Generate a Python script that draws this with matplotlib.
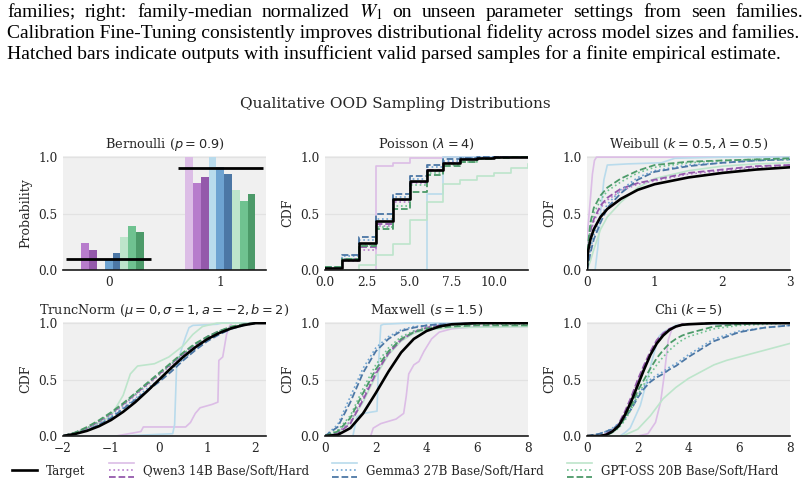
import matplotlib
matplotlib.use("Agg")
import matplotlib.pyplot as plt
from matplotlib.lines import Line2D
from matplotlib.legend_handler import HandlerBase
import numpy as np

# ---------------- data ----------------
caption_lines = [
    r"families; right: family-median normalized $W_1$ on unseen parameter settings from seen families.",
    "Calibration Fine-Tuning consistently improves distributional fidelity across model sizes and families.",
    "Hatched bars indicate outputs with insufficient valid parsed samples for a finite empirical estimate.",
]
caption_justify = [True, False, False]
suptitle = "Qualitative OOD Sampling Distributions"
families = ["Qwen3 14B", "Gemma3 27B", "GPT-OSS 20B"]
variants = ["Base", "Soft", "Hard"]

# Bernoulli (p=0.9)
bern_cats = [0, 1]
bern_target = [0.1, 0.9]
bern_qwen_base = [0.0, 1.0]
bern_qwen_soft = [0.24, 0.77]
bern_qwen_hard = [0.18, 0.82]
bern_gemma_base = [0.0, 1.0]
bern_gemma_soft = [0.09, 0.91]
bern_gemma_hard = [0.15, 0.85]
bern_gpt_base = [0.29, 0.71]
bern_gpt_soft = [0.39, 0.61]
bern_gpt_hard = [0.34, 0.67]

# Poisson (lambda=4), step CDFs
pois_k = [0, 1, 2, 3, 4, 5, 6, 7, 8, 9, 10, 11, 12]
pois_target = [0.02, 0.09, 0.24, 0.43, 0.63, 0.79, 0.89, 0.95, 0.98, 0.99, 1.0, 1.0, 1.0]
pois_qwen_base = [0.0, 0.0, 0.0, 0.92, 0.95, 0.99, 0.99, 1.0, 1.0, 1.0, 1.0, 1.0, 1.0]
pois_qwen_soft = [0.01, 0.08, 0.18, 0.39, 0.60, 0.77, 0.88, 0.96, 0.98, 0.99, 1.0, 1.0, 1.0]
pois_qwen_hard = [0.01, 0.10, 0.20, 0.41, 0.62, 0.78, 0.89, 0.95, 0.98, 0.99, 1.0, 1.0, 1.0]
pois_gemma_base = [0.0, 0.0, 0.0, 0.0, 0.0, 0.0, 0.67, 1.0, 1.0, 1.0, 1.0, 1.0, 1.0]
pois_gemma_soft = [0.02, 0.12, 0.27, 0.45, 0.65, 0.81, 0.91, 0.97, 0.99, 1.0, 1.0, 1.0, 1.0]
pois_gemma_hard = [0.03, 0.13, 0.29, 0.50, 0.67, 0.83, 0.93, 0.98, 0.99, 1.0, 1.0, 1.0, 1.0]
pois_gpt_base = [0.0, 0.0, 0.04, 0.13, 0.23, 0.44, 0.60, 0.76, 0.80, 0.83, 0.86, 0.90, 0.94]
pois_gpt_soft = [0.03, 0.10, 0.22, 0.38, 0.57, 0.75, 0.86, 0.93, 0.96, 0.98, 0.99, 1.0, 1.0]
pois_gpt_hard = [0.03, 0.10, 0.21, 0.36, 0.54, 0.69, 0.84, 0.92, 0.96, 0.98, 0.99, 1.0, 1.0]

# Weibull (k=0.5, lambda=0.5)
weib_x = [0, 0.01, 0.02, 0.05, 0.1, 0.2, 0.3, 0.5, 0.75, 1.0, 1.5, 2.0, 2.5, 3.0]
weib_target = [0, 0.13, 0.18, 0.27, 0.36, 0.47, 0.54, 0.63, 0.71, 0.76, 0.82, 0.86, 0.89, 0.91]
weib_qwen_soft = [0, 0.12, 0.20, 0.33, 0.43, 0.55, 0.62, 0.70, 0.76, 0.79, 0.85, 0.88, 0.91, 0.93]
weib_qwen_hard = [0, 0.13, 0.21, 0.35, 0.45, 0.57, 0.64, 0.72, 0.77, 0.80, 0.86, 0.89, 0.92, 0.93]
weib_gemma_soft = [0, 0.04, 0.08, 0.18, 0.31, 0.47, 0.58, 0.71, 0.82, 0.88, 0.93, 0.95, 0.97, 0.98]
weib_gemma_hard = [0, 0.03, 0.06, 0.15, 0.27, 0.42, 0.55, 0.68, 0.80, 0.87, 0.92, 0.95, 0.97, 0.98]
weib_gpt_soft = [0, 0.13, 0.22, 0.38, 0.50, 0.62, 0.70, 0.78, 0.86, 0.91, 0.95, 0.97, 0.98, 0.98]
weib_gpt_hard = [0, 0.15, 0.25, 0.42, 0.55, 0.66, 0.73, 0.81, 0.88, 0.93, 0.96, 0.97, 0.98, 0.99]
weib_qwen_base_x = [0, 0.0, 0.02, 0.05, 0.08, 0.11, 0.14, 3.0]
weib_qwen_base_y = [0, 0.28, 0.42, 0.63, 0.85, 0.97, 1.0, 1.0]
weib_gemma_base_x = [0, 0.12, 0.16, 0.2, 0.25, 0.3, 0.6, 1.1, 1.3, 2.0, 3.0]
weib_gemma_base_y = [0, 0.0, 0.2, 0.5, 0.8, 0.93, 0.94, 0.95, 0.99, 1.0, 1.0]
weib_gpt_base_x = [0, 0.05, 0.1, 0.2, 0.3, 0.5, 0.75, 1.0, 1.5, 2.0, 2.5, 3.0]
weib_gpt_base_y = [0, 0.08, 0.18, 0.36, 0.47, 0.60, 0.73, 0.81, 0.88, 0.92, 0.94, 0.95]

# Truncated normal (mu=0, sigma=1, a=-2, b=2)
tn_x = [-2, -1.75, -1.5, -1.25, -1, -0.75, -0.5, -0.25, 0, 0.25, 0.5, 0.75, 1.0, 1.25, 1.5, 1.75, 2.0, 2.22]
tn_target = [0, 0.018, 0.046, 0.087, 0.142, 0.214, 0.299, 0.397, 0.5, 0.603, 0.701, 0.786, 0.858, 0.913, 0.954, 0.982, 1.0, 1.0]
tn_qwen_soft = [0, 0.03, 0.07, 0.12, 0.19, 0.27, 0.36, 0.45, 0.54, 0.63, 0.72, 0.80, 0.87, 0.92, 0.96, 0.99, 1.0, 1.0]
tn_qwen_hard = [0, 0.03, 0.07, 0.13, 0.20, 0.28, 0.37, 0.46, 0.55, 0.64, 0.73, 0.81, 0.88, 0.93, 0.96, 0.99, 1.0, 1.0]
tn_gemma_soft = [0, 0.02, 0.05, 0.10, 0.17, 0.25, 0.33, 0.42, 0.50, 0.59, 0.68, 0.77, 0.85, 0.91, 0.95, 0.98, 1.0, 1.0]
tn_gemma_hard = [0, 0.02, 0.05, 0.10, 0.16, 0.24, 0.32, 0.40, 0.48, 0.57, 0.67, 0.76, 0.84, 0.90, 0.95, 0.98, 1.0, 1.0]
tn_gpt_soft = [0, 0.03, 0.07, 0.13, 0.20, 0.28, 0.37, 0.46, 0.55, 0.64, 0.73, 0.81, 0.88, 0.93, 0.96, 0.99, 1.0, 1.0]
tn_gpt_hard = [0, 0.03, 0.08, 0.14, 0.21, 0.29, 0.38, 0.47, 0.56, 0.65, 0.74, 0.82, 0.88, 0.93, 0.97, 0.99, 1.0, 1.0]
tn_qwen_base_x = [-2, -0.9, -0.5, -0.38, -0.33, 0.55, 0.65, 0.75, 0.85, 1.1, 1.22, 1.24, 1.32, 1.4, 1.47, 1.52, 2.22]
tn_qwen_base_y = [0, 0.0, 0.03, 0.04, 0.08, 0.08, 0.12, 0.20, 0.25, 0.28, 0.30, 0.67, 0.70, 0.90, 0.98, 1.0, 1.0]
tn_gemma_base_x = [-2, -0.8, 0.28, 0.32, 0.36, 0.45, 0.55, 0.62, 0.7, 1.2, 1.3, 2.22]
tn_gemma_base_y = [0, 0.0, 0.02, 0.10, 0.60, 0.75, 0.88, 0.96, 0.98, 0.99, 1.0, 1.0]
tn_gpt_base_x = [-2, -1.5, -1.0, -0.75, -0.6, -0.45, -0.1, 0.2, 0.5, 0.7, 0.9, 1.2, 2.22]
tn_gpt_base_y = [0, 0.05, 0.18, 0.36, 0.55, 0.62, 0.64, 0.70, 0.80, 0.90, 0.97, 1.0, 1.0]

# Maxwell (s=1.5)
mx_x = [0, 0.5, 1, 1.5, 2, 2.5, 3, 3.5, 4, 4.5, 5, 6, 7, 8]
mx_target = [0, 0.01, 0.07, 0.20, 0.38, 0.57, 0.74, 0.86, 0.93, 0.97, 0.99, 1.0, 1.0, 1.0]
mx_qwen_soft = [0, 0.03, 0.13, 0.35, 0.57, 0.75, 0.86, 0.93, 0.97, 0.98, 0.99, 1.0, 1.0, 1.0]
mx_qwen_hard = [0, 0.02, 0.11, 0.32, 0.55, 0.73, 0.85, 0.92, 0.96, 0.98, 0.99, 1.0, 1.0, 1.0]
mx_gemma_soft = [0, 0.10, 0.35, 0.60, 0.78, 0.88, 0.94, 0.97, 0.98, 0.99, 0.99, 1.0, 1.0, 1.0]
mx_gemma_hard = [0, 0.08, 0.30, 0.56, 0.75, 0.86, 0.93, 0.96, 0.98, 0.99, 0.99, 1.0, 1.0, 1.0]
mx_gpt_soft = [0, 0.05, 0.18, 0.42, 0.63, 0.78, 0.88, 0.93, 0.96, 0.97, 0.98, 0.99, 0.99, 0.99]
mx_gpt_hard = [0, 0.04, 0.16, 0.38, 0.59, 0.75, 0.86, 0.92, 0.95, 0.96, 0.97, 0.98, 0.98, 0.98]
mx_qwen_base_x = [0, 1.8, 1.9, 2.2, 2.8, 3.1, 3.2, 3.3, 3.5, 3.7, 3.9, 4.2, 4.5, 5.0, 6.0, 8.0]
mx_qwen_base_y = [0, 0.0, 0.07, 0.11, 0.15, 0.20, 0.35, 0.55, 0.63, 0.66, 0.75, 0.86, 0.92, 0.95, 0.97, 0.97]
mx_gemma_base_x = [0, 1.1, 1.25, 1.5, 2.05, 2.1, 2.2, 2.3, 3.2, 8.0]
mx_gemma_base_y = [0, 0.0, 0.17, 0.20, 0.22, 0.60, 0.98, 0.99, 1.0, 1.0]
mx_gpt_base_x = [0, 0.5, 1, 1.5, 2, 2.5, 3, 3.5, 4, 5, 8]
mx_gpt_base_y = [0, 0.03, 0.12, 0.30, 0.53, 0.72, 0.84, 0.91, 0.94, 0.96, 0.97]

# Chi (k=5)
chi_x = [0, 0.5, 0.75, 1, 1.25, 1.5, 1.75, 2, 2.25, 2.5, 2.75, 3, 3.25, 3.5, 3.75, 4, 5, 6, 7, 8]
chi_target = [0, 0.0, 0.01, 0.04, 0.09, 0.19, 0.31, 0.45, 0.59, 0.72, 0.82, 0.89, 0.94, 0.97, 0.985, 0.99, 1, 1, 1, 1]
chi_qwen_soft = [0, 0.0, 0.02, 0.05, 0.10, 0.21, 0.34, 0.48, 0.62, 0.74, 0.84, 0.90, 0.95, 0.97, 0.98, 0.99, 1, 1, 1, 1]
chi_qwen_hard = [0, 0.0, 0.02, 0.05, 0.11, 0.22, 0.35, 0.50, 0.63, 0.75, 0.85, 0.91, 0.95, 0.97, 0.99, 0.99, 1, 1, 1, 1]
chi_gemma_soft = [0, 0.02, 0.04, 0.07, 0.11, 0.18, 0.26, 0.36, 0.44, 0.50, 0.54, 0.57, 0.61, 0.64, 0.68, 0.72, 0.86, 0.93, 0.96, 0.98]
chi_gemma_hard = [0, 0.02, 0.04, 0.06, 0.10, 0.16, 0.24, 0.34, 0.42, 0.48, 0.52, 0.55, 0.59, 0.62, 0.66, 0.70, 0.84, 0.92, 0.96, 0.98]
chi_gpt_soft = [0, 0.0, 0.01, 0.03, 0.07, 0.14, 0.24, 0.36, 0.46, 0.55, 0.63, 0.70, 0.76, 0.81, 0.85, 0.88, 0.95, 0.98, 0.99, 1.0]
chi_gpt_hard = [0, 0.0, 0.01, 0.03, 0.08, 0.16, 0.27, 0.40, 0.50, 0.60, 0.69, 0.76, 0.82, 0.86, 0.89, 0.91, 0.97, 0.99, 1.0, 1.0]
chi_qwen_base_x = [0, 2.0, 2.4, 2.7, 2.9, 3.05, 3.2, 3.35, 3.8, 8]
chi_qwen_base_y = [0, 0.0, 0.02, 0.12, 0.30, 0.55, 0.85, 0.95, 0.99, 1.0]
chi_gemma_base_x = [0, 1.3, 1.5, 1.7, 2.1, 2.35, 2.6, 2.83, 3.0, 3.5, 4.0, 8]
chi_gemma_base_y = [0, 0.0, 0.03, 0.07, 0.27, 0.48, 0.70, 0.88, 0.92, 0.98, 0.99, 1.0]
chi_gpt_base_x = [0, 1.4, 2.0, 2.5, 2.8, 3.0, 3.5, 4.0, 4.5, 5.0, 5.5, 6.0, 7.0, 8.0]
chi_gpt_base_y = [0, 0.0, 0.06, 0.18, 0.27, 0.33, 0.43, 0.51, 0.57, 0.63, 0.67, 0.70, 0.76, 0.82]

# ---------------- style ----------------
plt.rcParams.update({
    "font.family": "DejaVu Serif",
    "mathtext.fontset": "dejavusans",
    "font.size": 8.5,
    "text.color": "#262626",
    "axes.labelcolor": "#262626",
    "xtick.color": "#262626",
    "ytick.color": "#262626",
})

colors = {
    "Qwen3 14B": ["#dcbde6", "#b77ccc", "#9459ab"],
    "Gemma3 27B": ["#b9dbec", "#6ea3d1", "#4c77a5"],
    "GPT-OSS 20B": ["#bde5cb", "#6fc290", "#4c9a69"],
}
lstyles = ["-", ":", "--"]
lwidths = [1.2, 1.2, 1.3]
BG = "#f0f0f0"
GRID = "#e2e2e2"
TITLE_FS = 9.3

W, H = 807, 486
fig = plt.figure(figsize=(W / 100, H / 100), dpi=100)
renderer = fig.canvas.get_renderer()

# caption (line 1 justified to the full width like the source paragraph)
cap_kw = dict(family="Liberation Serif", fontsize=14.0, va="baseline", ha="left",
              color="black", math_fontfamily="stix")
x_left, x_right = 7, 803
for i, (line, just) in enumerate(zip(caption_lines, caption_justify)):
    ybase = 1 - (17 + 21 * i) / H
    if not just:
        fig.text(x_left / W, ybase, line, **cap_kw)
        continue
    words = line.split(" ")
    txts = [fig.text(0, ybase, w, **cap_kw) for w in words]
    widths = [t.get_window_extent(renderer).width for t in txts]
    gap = (x_right - x_left - sum(widths)) / (len(words) - 1)
    xpos = x_left
    for t, wd in zip(txts, widths):
        t.set_x(xpos / W)
        xpos += wd + gap

fig.text(395 / W, 1 - 104 / H, suptitle, ha="center", va="center", fontsize=11)

lefts = [63, 325, 587]
bottoms = [270, 436]
aw, ah = 203, 114
axes = []
for r in range(2):
    for c in range(3):
        ax = fig.add_axes([lefts[c] / W, 1 - bottoms[r] / H, aw / W, ah / H])
        ax.set_facecolor(BG)
        for s in ["left", "right", "top"]:
            ax.spines[s].set_visible(False)
        ax.spines["bottom"].set_color("#1a1a1a")
        ax.spines["bottom"].set_linewidth(1.2)
        ax.spines["bottom"].set_zorder(6)
        ax.yaxis.grid(True, color=GRID, lw=0.9)
        ax.set_axisbelow(True)
        ax.tick_params(length=0, pad=4, labelsize=8.7)
        ax.set_ylim(0, 1.01)
        ax.set_yticks([0, 0.5, 1.0])
        ax.set_yticklabels(["0.0", "0.5", "1.0"])
        axes.append(ax)

# --- Bernoulli ---
ax = axes[0]
bern_series = [
    bern_qwen_base, bern_qwen_soft, bern_qwen_hard,
    bern_gemma_base, bern_gemma_soft, bern_gemma_hard,
    bern_gpt_base, bern_gpt_soft, bern_gpt_hard,
]
bar_colors = colors["Qwen3 14B"] + colors["Gemma3 27B"] + colors["GPT-OSS 20B"]
bw = 0.07
cats = np.array(bern_cats, dtype=float)
for j, (vals, col) in enumerate(zip(bern_series, bar_colors)):
    ax.bar(cats + (j - 4) * bw, vals, width=bw, color=col, linewidth=0, zorder=2)
ax.hlines(bern_target, cats - 0.38, cats + 0.38, color="black", lw=2.0, zorder=5)
ax.set_xlim(-0.41, 1.41)
ax.set_xticks(bern_cats)
ax.set_xticklabels([str(c) for c in bern_cats])
ax.set_ylabel("Probability", fontsize=9)
ax.set_title(r"Bernoulli ($p = 0.9$)", fontsize=TITLE_FS, pad=5.5)


def draw_cdf(ax, x, ys, xb, yb, target, drawstyle="default"):
    fams = list(colors.keys())
    for f in fams:
        cbase = colors[f][0]
        ax.plot(xb[f], yb[f], color=cbase, ls="-", lw=1.2, drawstyle=drawstyle, zorder=3)
    for f in fams:
        for v in (1, 2):
            ax.plot(x, ys[f][v - 1], color=colors[f][v], ls=lstyles[v], lw=lwidths[v],
                    drawstyle=drawstyle, zorder=4)
    ax.plot(x, target, color="black", lw=1.9, drawstyle=drawstyle, zorder=5)
    ax.set_ylabel("CDF", fontsize=9)


# --- Poisson ---
ax = axes[1]
draw_cdf(ax, pois_k,
         {"Qwen3 14B": [pois_qwen_soft, pois_qwen_hard],
          "Gemma3 27B": [pois_gemma_soft, pois_gemma_hard],
          "GPT-OSS 20B": [pois_gpt_soft, pois_gpt_hard]},
         {"Qwen3 14B": pois_k, "Gemma3 27B": pois_k, "GPT-OSS 20B": pois_k},
         {"Qwen3 14B": pois_qwen_base, "Gemma3 27B": pois_gemma_base, "GPT-OSS 20B": pois_gpt_base},
         pois_target, drawstyle="steps-post")
ax.set_xlim(0, 12)
ax.set_xticks([0, 2.5, 5, 7.5, 10])
ax.set_xticklabels(["0.0", "2.5", "5.0", "7.5", "10.0"])
ax.set_title(r"Poisson ($\lambda = 4$)", fontsize=TITLE_FS, pad=5.5)

# --- Weibull ---
ax = axes[2]
draw_cdf(ax, weib_x,
         {"Qwen3 14B": [weib_qwen_soft, weib_qwen_hard],
          "Gemma3 27B": [weib_gemma_soft, weib_gemma_hard],
          "GPT-OSS 20B": [weib_gpt_soft, weib_gpt_hard]},
         {"Qwen3 14B": weib_qwen_base_x, "Gemma3 27B": weib_gemma_base_x, "GPT-OSS 20B": weib_gpt_base_x},
         {"Qwen3 14B": weib_qwen_base_y, "Gemma3 27B": weib_gemma_base_y, "GPT-OSS 20B": weib_gpt_base_y},
         weib_target)
ax.set_xlim(0, 3)
ax.set_xticks([0, 1, 2, 3])
ax.set_title(r"Weibull ($k = 0.5, \lambda = 0.5$)", fontsize=TITLE_FS, pad=5.5)

# --- TruncNorm ---
ax = axes[3]
draw_cdf(ax, tn_x,
         {"Qwen3 14B": [tn_qwen_soft, tn_qwen_hard],
          "Gemma3 27B": [tn_gemma_soft, tn_gemma_hard],
          "GPT-OSS 20B": [tn_gpt_soft, tn_gpt_hard]},
         {"Qwen3 14B": tn_qwen_base_x, "Gemma3 27B": tn_gemma_base_x, "GPT-OSS 20B": tn_gpt_base_x},
         {"Qwen3 14B": tn_qwen_base_y, "Gemma3 27B": tn_gemma_base_y, "GPT-OSS 20B": tn_gpt_base_y},
         tn_target)
ax.set_xlim(-2, 2.22)
ax.set_xticks([-2, -1, 0, 1, 2])
ax.set_title(r"TruncNorm ($\mu = 0, \sigma = 1, a = -2, b = 2$)", fontsize=TITLE_FS, pad=5.5)

# --- Maxwell ---
ax = axes[4]
draw_cdf(ax, mx_x,
         {"Qwen3 14B": [mx_qwen_soft, mx_qwen_hard],
          "Gemma3 27B": [mx_gemma_soft, mx_gemma_hard],
          "GPT-OSS 20B": [mx_gpt_soft, mx_gpt_hard]},
         {"Qwen3 14B": mx_qwen_base_x, "Gemma3 27B": mx_gemma_base_x, "GPT-OSS 20B": mx_gpt_base_x},
         {"Qwen3 14B": mx_qwen_base_y, "Gemma3 27B": mx_gemma_base_y, "GPT-OSS 20B": mx_gpt_base_y},
         mx_target)
ax.set_xlim(0, 8)
ax.set_xticks([0, 2, 4, 6, 8])
ax.set_title(r"Maxwell ($s = 1.5$)", fontsize=TITLE_FS, pad=5.5)

# --- Chi ---
ax = axes[5]
draw_cdf(ax, chi_x,
         {"Qwen3 14B": [chi_qwen_soft, chi_qwen_hard],
          "Gemma3 27B": [chi_gemma_soft, chi_gemma_hard],
          "GPT-OSS 20B": [chi_gpt_soft, chi_gpt_hard]},
         {"Qwen3 14B": chi_qwen_base_x, "Gemma3 27B": chi_gemma_base_x, "GPT-OSS 20B": chi_gpt_base_x},
         {"Qwen3 14B": chi_qwen_base_y, "Gemma3 27B": chi_gemma_base_y, "GPT-OSS 20B": chi_gpt_base_y},
         chi_target)
ax.set_xlim(0, 8)
ax.set_xticks([0, 2, 4, 6, 8])
ax.set_title(r"Chi ($k = 5$)", fontsize=TITLE_FS, pad=5.5)

for ax in axes:
    ax.yaxis.set_label_coords(-0.15, 0.5)


# ---------------- legend ----------------
class StackHandler(HandlerBase):
    def create_artists(self, legend, orig_handle, xdescent, ydescent, width, height,
                       fontsize, trans):
        arts = []
        yc = height / 2 - ydescent
        offs = [0.6 * fontsize, 0, -0.6 * fontsize]
        for h, off in zip(orig_handle, offs):
            ln = Line2D([-xdescent, width - xdescent], [yc + off, yc + off],
                        color=h.get_color(), linestyle=h.get_linestyle(),
                        linewidth=h.get_linewidth())
            ln.set_transform(trans)
            arts.append(ln)
        return arts


handles = [Line2D([], [], color="black", lw=1.9)]
labels = ["Target"]
for f in families:
    handles.append(tuple(Line2D([], [], color=colors[f][v], ls=lstyles[v], lw=lwidths[v])
                         for v in range(3)))
    labels.append(f + " " + "/".join(variants))
fig.legend(handles, labels, handler_map={tuple: StackHandler()},
           loc="center", bbox_to_anchor=(0.49, 1 - 471 / H), ncol=4, frameon=False,
           fontsize=8.6, handlelength=2.1, handletextpad=0.75, columnspacing=1.95)

fig.savefig("out.png", dpi=100)
